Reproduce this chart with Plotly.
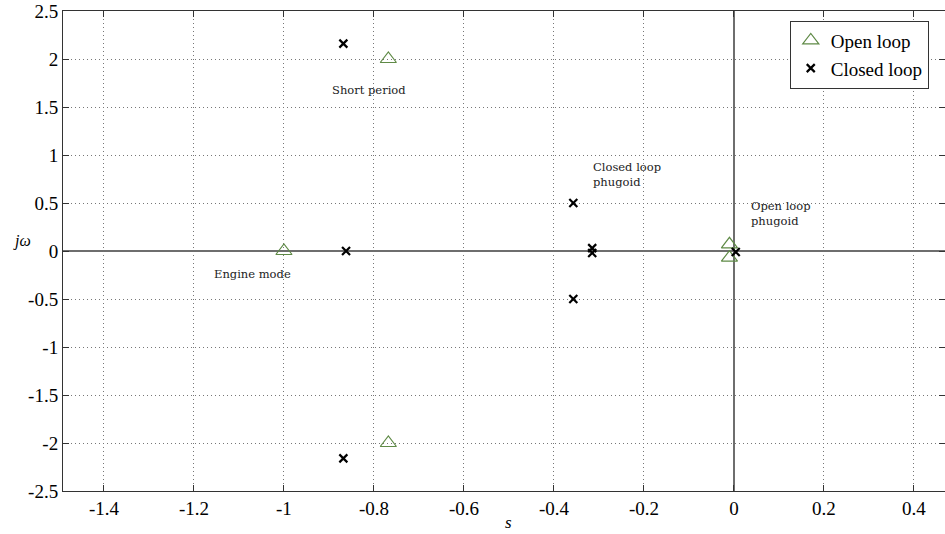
import plotly.graph_objects as go

# Open loop poles
open_re = [-1.0, -0.768, -0.768, -0.010, -0.010]
open_im = [0.0, 2.0, -2.0, 0.07, -0.07]

# Closed loop poles
closed_re = [-0.868, -0.868, -0.862, -0.357, -0.357, -0.315, -0.315, 0.004]
closed_im = [2.16, -2.16, 0.0, 0.50, -0.50, 0.03, -0.02, -0.01]

x_ticks = [-1.4, -1.2, -1.0, -0.8, -0.6, -0.4, -0.2, 0.0, 0.2, 0.4]
x_labels = ["-1.4", "-1.2", "-1", "-0.8", "-0.6", "-0.4", "-0.2", "0", "0.2", "0.4"]
y_ticks = [-2.5, -2, -1.5, -1, -0.5, 0, 0.5, 1, 1.5, 2, 2.5]
y_labels = ["-2.5", "-2", "-1.5", "-1", "-0.5", "0", "0.5", "1", "1.5", "2", "2.5"]

notes = [
    (-0.81, 1.68, "Short period", "center"),
    (-1.07, -0.24, "Engine mode", "center"),
    (-0.318, 0.80, "Closed loop<br>phugoid", "left"),
    (0.034, 0.39, "Open loop<br>phugoid", "left"),
]

serif = "Liberation Serif"

fig = go.Figure()
fig.add_trace(go.Scatter(
    x=open_re, y=open_im, mode="markers", name="Open loop",
    marker=dict(symbol="triangle-up-open", size=14, color="#5f8a46",
                line=dict(width=1.2, color="#5f8a46")),
))
fig.add_trace(go.Scatter(
    x=closed_re, y=closed_im, mode="markers", name="Closed loop",
    marker=dict(symbol="x-thin-open", size=8, color="black",
                line=dict(width=2.2, color="black")),
))

for x, y, t, al in notes:
    fig.add_annotation(x=x, y=y, text=t, showarrow=False, align=al,
                       xanchor=al if al == "left" else "center",
                       font=dict(family="DejaVu Serif", size=11.5, color="#222"))

fig.add_annotation(xref="paper", yref="y", x=-0.046, y=0.1, text="<i>jω</i>",
                   showarrow=False, xanchor="center",
                   font=dict(family=serif, size=16, color="black"))
fig.add_annotation(xref="x", yref="paper", x=-0.50, y=-0.066, text="<i>s</i>",
                   showarrow=False, yanchor="middle",
                   font=dict(family=serif, size=17, color="black"))

axis_common = dict(
    showgrid=True, gridcolor="#777", griddash="1px,3px", gridwidth=1,
    zeroline=True, zerolinecolor="#6e6e6e", zerolinewidth=1.5,
    showline=True, linecolor="#333", linewidth=1, mirror="ticks",
    ticks="inside", ticklen=6, tickcolor="#333",
)

fig.update_layout(
    width=945, height=534,
    margin=dict(l=63, r=0, t=11, b=43),
    plot_bgcolor="white", paper_bgcolor="white",
    font=dict(family=serif, size=19, color="black"),
    xaxis=dict(range=[-1.491, 0.469], tickmode="array", tickvals=x_ticks, ticktext=x_labels, **axis_common),
    yaxis=dict(range=[-2.5, 2.5], tickmode="array", tickvals=y_ticks, ticktext=y_labels, **axis_common),
    showlegend=True,
    legend=dict(x=0.824, y=0.98, xanchor="left", yanchor="top",
                bgcolor="white", bordercolor="#333", borderwidth=1,
                font=dict(family=serif, size=19, color="black"),
                itemwidth=30, tracegroupgap=0),
)
fig.update_xaxes(tickfont_family=serif, tickfont_size=19, tickfont_color="black")
fig.update_yaxes(tickfont_family=serif, tickfont_size=19, tickfont_color="black")

fig.write_html("out.html")
